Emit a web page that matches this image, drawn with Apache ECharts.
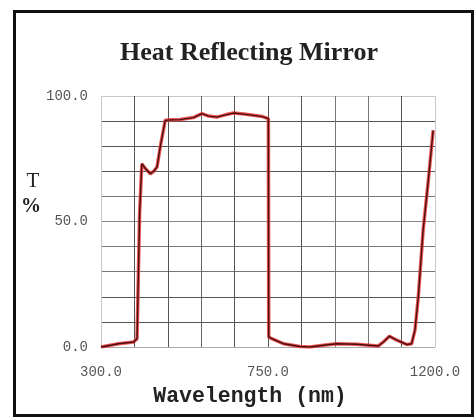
<!DOCTYPE html>
<html>
<head>
<meta charset="utf-8">
<script src="https://cdn.jsdelivr.net/npm/echarts@6/dist/echarts.min.js"></script>
<style>
html,body{margin:0;padding:0;background:#fff;}
#c{width:475px;height:420px;}
</style>
</head>
<body>
<div id="c"></div>
<script>
// Wavelength (nm) and transmission (%)
const wavelength = [300, 347, 388, 397, 398.5, 404, 410, 420, 433, 442, 451, 460, 473, 490, 513, 549, 572, 590, 612, 635, 657, 685, 711, 735, 751, 752, 760, 792, 836, 863, 899, 935, 989, 1047, 1061, 1077, 1097, 1124, 1137, 1146, 1155, 1168, 1182, 1195];
const transmission = [0.0, 1.3, 2.0, 3.3, 13, 53, 73, 71, 69, 70, 71.7, 80, 90.3, 90.5, 90.6, 91.4, 93.0, 92.0, 91.6, 92.5, 93.2, 92.8, 92.3, 91.8, 91.0, 4.0, 3.3, 1.3, 0.2, 0.0, 0.7, 1.3, 1.1, 0.4, 2.0, 4.3, 2.7, 1.0, 1.3, 6.7, 20, 46.5, 66.4, 86.3];
const xLabelValues = [300, 750, 1200];
const yLabelValues = [0, 50, 100];

const points = wavelength.map((w, i) => [w, transmission[i]]);

const chart = echarts.init(document.getElementById('c'));
const gridColorsX = ['#c8c8c8', '#555', '#555', '#666', '#555', '#555', '#555', '#777', '#777', '#555', '#c8c8c8'];
const gridColorsY = ['#aaa', '#555', '#555', '#777', '#777', '#888', '#777', '#555', '#555', '#555', '#c8c8c8'];

chart.setOption({
  backgroundColor: '#fff',
  animation: false,
  title: {
    text: 'Heat Reflecting Mirror',
    left: 244,
    textAlign: 'center',
    top: 35,
    textStyle: {fontFamily: 'Liberation Serif', fontSize: 26, fontWeight: 'bold', color: '#222'}
  },
  grid: {left: 101, right: 40, top: 96, bottom: 73},
  xAxis: {
    type: 'value', min: 300, max: 1200, interval: 90,
    axisLine: {show: false}, axisTick: {show: false},
    splitLine: {show: true, lineStyle: {color: gridColorsX, width: 1}},
    axisLabel: {
      margin: 18, fontFamily: 'Liberation Mono', fontSize: 14, color: '#555',
      formatter: v => xLabelValues.includes(v) ? v.toFixed(1) : ''
    }
  },
  yAxis: {
    type: 'value', min: 0, max: 100, interval: 10,
    axisLine: {show: false}, axisTick: {show: false},
    splitLine: {show: true, lineStyle: {color: gridColorsY, width: 1}},
    axisLabel: {
      margin: 13, fontFamily: 'Liberation Mono', fontSize: 14, color: '#555',
      formatter: v => yLabelValues.includes(v) ? v.toFixed(1) : ''
    }
  },
  graphic: [
    {type: 'rect', shape: {x: 14.5, y: 11.5, width: 458, height: 404}, style: {fill: null, stroke: '#111', lineWidth: 3}, z: 100},
    {type: 'text', x: 33, y: 181, style: {text: 'T', font: '21px "Liberation Serif"', fill: '#222', align: 'center', verticalAlign: 'middle'}},
    {type: 'text', x: 31, y: 207, style: {text: '%', font: 'bold 20px "Liberation Serif"', fill: '#222', align: 'center', verticalAlign: 'middle'}},
    {type: 'text', x: 250, y: 397, style: {text: 'Wavelength (nm)', font: 'bold 21.5px "Liberation Mono"', fill: '#222', align: 'center', verticalAlign: 'middle'}}
  ],
  series: [
    {type: 'line', data: points, showSymbol: false, lineStyle: {color: '#e83838', width: 3.5, opacity: 0.85}, z: 3},
    {type: 'line', data: points, showSymbol: false, lineStyle: {color: '#4a0e0e', width: 1.4}, z: 4}
  ]
});
</script>
</body>
</html>
